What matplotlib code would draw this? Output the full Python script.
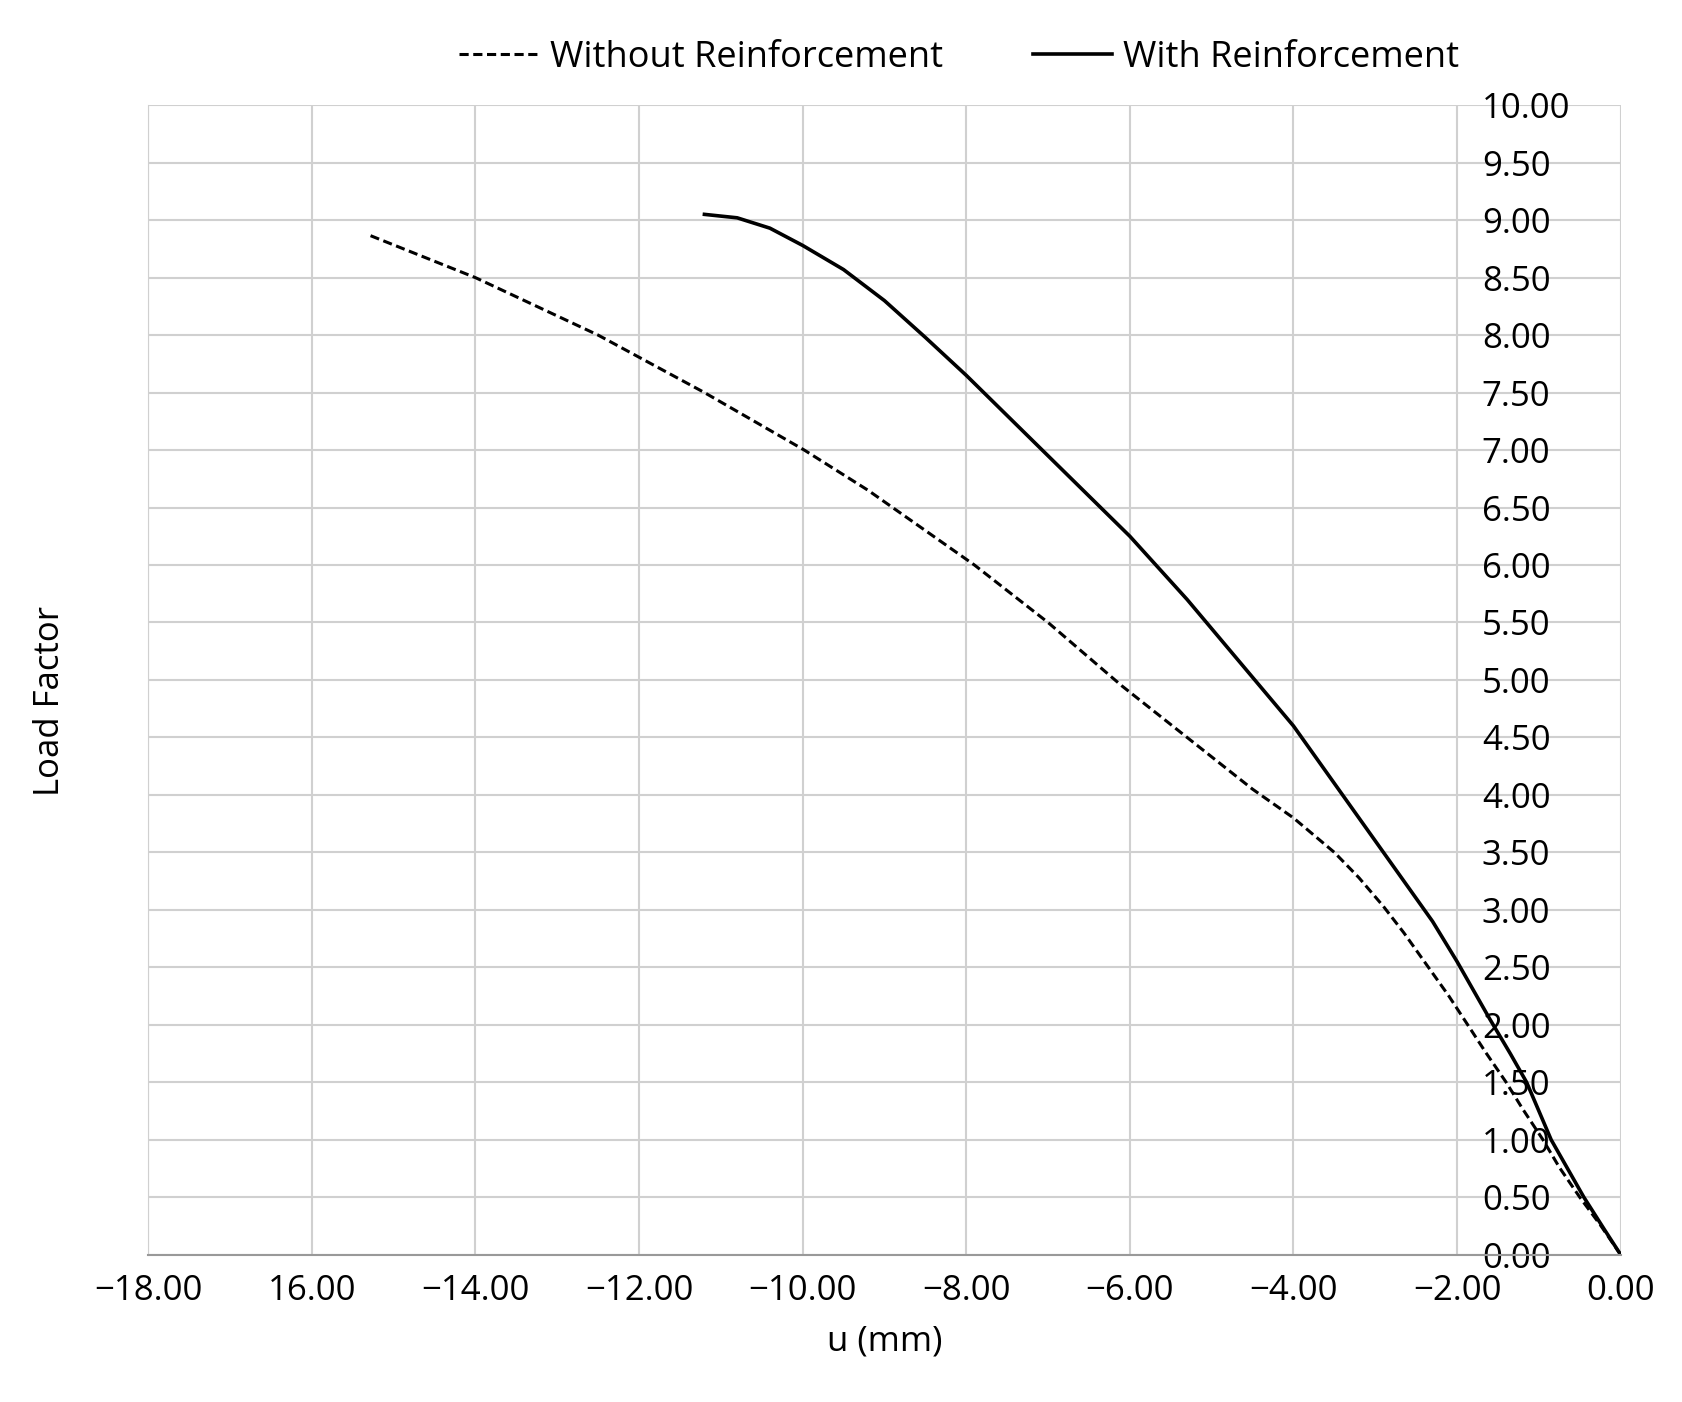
import matplotlib.pyplot as plt
import numpy as np

plt.rcParams['font.family'] = ['Open Sans', 'DejaVu Sans']

# без армирования (пунктир)
u_without = [0.0, -0.25, -0.5, -0.75, -0.95, -1.2, -1.4, -1.65, -1.87, -2.1, -2.4, -2.65, -2.9, -3.2, -3.5, -4.0, -4.5, -5.3,
             -6.1, -7.0, -7.9, -8.5, -9.2, -9.98, -11.2, -12.5, -14.0, -15.3]
lf_without = [0.0, 0.26, 0.5, 0.76, 1.0, 1.27, 1.5, 1.76, 2.0, 2.25, 2.55, 2.8, 3.03, 3.28, 3.5, 3.8, 4.05, 4.5,
              4.95, 5.5, 6.0, 6.3, 6.65, 7.0, 7.5, 8.0, 8.5, 8.87]

# с армированием (сплошная)
u_with = [0.0, -0.2, -0.45, -0.65, -0.85, -1.0, -1.15, -1.35, -1.6, -1.8, -2.0, -2.3, -2.6, -3.0, -3.45, -4.0, -4.65, -5.3,
          -6.0, -6.5, -7.0, -7.5, -8.0, -8.5, -9.0, -9.5, -10.0, -10.4, -10.8, -11.2]
lf_with = [0.0, 0.22, 0.5, 0.75, 1.0, 1.25, 1.5, 1.75, 2.05, 2.3, 2.55, 2.9, 3.2, 3.6, 4.05, 4.6, 5.15, 5.7,
           6.25, 6.6, 6.95, 7.3, 7.65, 7.98, 8.3, 8.57, 8.78, 8.93, 9.02, 9.05]

x_ticks = np.arange(-18, 1, 2)
x_labels = ['\u221218.00', '16.00', '\u221214.00', '\u221212.00', '\u221210.00',
            '\u22128.00', '\u22126.00', '\u22124.00', '\u22122.00', '0.00']
y_ticks = np.arange(0, 10.01, 0.5)

fig = plt.figure(figsize=(16.83, 14.02), dpi=100)
ax = fig.add_axes([0.088, 0.105, 0.875, 0.82])

ax.plot(u_without, lf_without, color='black', linestyle=(0, (3, 1.5)), linewidth=2.2, label='Without Reinforcement')
ax.plot(u_with, lf_with, color='black', linestyle='-', linewidth=2.6, label='With Reinforcement')

ax.set_xlim(-18, 0)
ax.set_ylim(0, 10)
ax.set_xticks(x_ticks)
ax.set_xticklabels(x_labels)
ax.set_yticks(y_ticks)
ax.set_yticklabels([f'{v:.2f}' for v in y_ticks])
ax.yaxis.tick_right()
ax.tick_params(axis='both', labelsize=25, length=0)
ax.tick_params(axis='x', pad=14)
ax.tick_params(axis='y', pad=-100)
for lbl in ax.get_yticklabels():
    lbl.set_horizontalalignment('left')
ax.grid(True, color='#d0d0d0', linewidth=1.5)
for s in ['top', 'right']:
    ax.spines[s].set_visible(False)
ax.spines['left'].set_color('#d0d0d0')
ax.spines['bottom'].set_color('#999999')
ax.spines['bottom'].set_linewidth(1.5)

ax.set_xlabel('u (mm)', fontsize=25, labelpad=12)
fig.text(0.03, 0.50, 'Load Factor', rotation=90, fontsize=25, va='center', ha='center')

fig.legend(loc='upper center', bbox_to_anchor=(0.57, 0.995), ncol=2, frameon=False,
           fontsize=26, handlelength=2.2, columnspacing=2.5, handletextpad=0.3)

plt.savefig('out.png', dpi=100)
